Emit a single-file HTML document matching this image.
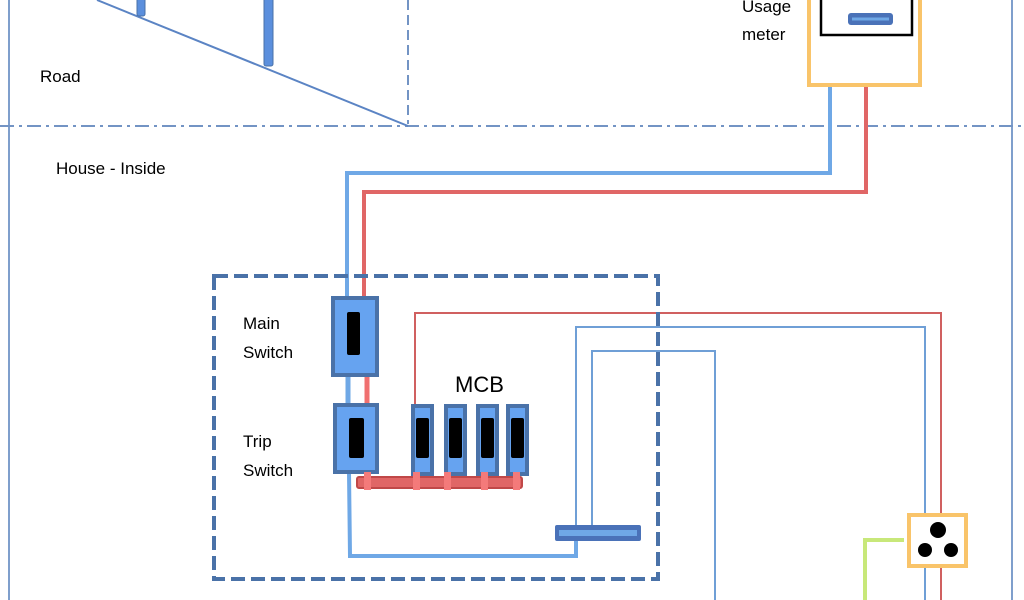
<!DOCTYPE html>
<html><head><meta charset="utf-8"><style>
html,body{margin:0;padding:0;background:#fff;}
svg{display:block;}
text{font-family:"Liberation Sans",sans-serif;fill:#000;}
</style></head><body>
<svg width="1024" height="600" viewBox="0 0 1024 600" xmlns="http://www.w3.org/2000/svg">
<!-- borders -->
<line x1="9" y1="0" x2="9" y2="600" stroke="#7f9fcc" stroke-width="2"/>
<line x1="1012" y1="0" x2="1012" y2="600" stroke="#7f9fcc" stroke-width="2"/>
<line x1="0" y1="126" x2="1024" y2="126" stroke="#7394c4" stroke-width="2" stroke-dasharray="14,5,3,5"/>
<line x1="408" y1="0" x2="408" y2="124" stroke="#7394c4" stroke-width="2" stroke-dasharray="10,5"/>
<!-- road -->
<line x1="97" y1="0" x2="408" y2="126" stroke="#5b84c4" stroke-width="2"/>
<rect x="137" y="-2" width="8" height="18" rx="2" fill="#5b8fdd" stroke="#4a72a8" stroke-width="1"/>
<rect x="264" y="-2" width="9" height="68" rx="2" fill="#5b8fdd" stroke="#4a72a8" stroke-width="1"/>
<text x="40" y="82" font-size="17">Road</text>
<text x="56" y="174" font-size="17">House - Inside</text>
<!-- meter -->
<rect x="809" y="-10" width="111" height="95" fill="#fff" stroke="#f9c46a" stroke-width="4"/>
<rect x="821" y="-10" width="91" height="45" fill="#fff" stroke="#000" stroke-width="2.5"/>
<rect x="848" y="13" width="45" height="12" rx="3" fill="#4a72b8"/>
<line x1="852" y1="19" x2="889" y2="19" stroke="#6fa8e6" stroke-width="3"/>
<text x="742" y="12" font-size="17">Usage</text>
<text x="742" y="40" font-size="17">meter</text>
<!-- main wires -->
<polyline points="830,87 830,173 347,173 347,298" fill="none" stroke="#6fa8e6" stroke-width="4"/>
<polyline points="866,87 866,192 364,192 364,298" fill="none" stroke="#e06666" stroke-width="4"/>
<!-- thin wires -->
<polyline points="415,405 415,313 941,313 941,600" fill="none" stroke="#d06060" stroke-width="2"/>
<polyline points="576,540 576,327 925,327 925,600" fill="none" stroke="#6f9fd6" stroke-width="2"/>
<polyline points="592,530 592,351 715,351 715,600" fill="none" stroke="#6f9fd6" stroke-width="2"/>
<!-- dashed box -->
<rect x="214" y="276" width="444" height="303" fill="none" stroke="#4a72a8" stroke-width="4" stroke-dasharray="14,6"/>
<!-- between switches -->
<line x1="348" y1="375" x2="348" y2="405" stroke="#6fa8e6" stroke-width="5"/>
<line x1="367" y1="375" x2="367" y2="405" stroke="#f07070" stroke-width="5"/>
<!-- trip to neutral bar -->
<polyline points="349,472 350,556 576,556 576,540" fill="none" stroke="#6fa8e6" stroke-width="4"/>
<!-- main switch -->
<rect x="333" y="298" width="44" height="77" fill="#66a3f0" stroke="#4a72a8" stroke-width="4"/>
<rect x="347" y="312" width="13" height="43" rx="2" fill="#000"/>
<!-- trip switch -->
<rect x="335" y="405" width="42" height="67" fill="#66a3f0" stroke="#4a72a8" stroke-width="4"/>
<rect x="349" y="418" width="15" height="40" rx="2" fill="#000"/>
<!-- MCBs -->
<g fill="#66a3f0" stroke="#4a72a8" stroke-width="4">
<rect x="413" y="406" width="19" height="68"/>
<rect x="446" y="406" width="19" height="68"/>
<rect x="478" y="406" width="19" height="68"/>
<rect x="508" y="406" width="19" height="68"/>
</g>
<g fill="#000">
<rect x="416" y="418" width="13" height="40" rx="2"/>
<rect x="449" y="418" width="13" height="40" rx="2"/>
<rect x="481" y="418" width="13" height="40" rx="2"/>
<rect x="511" y="418" width="13" height="40" rx="2"/>
</g>
<text x="455" y="392" font-size="22">MCB</text>
<!-- busbar -->
<rect x="357" y="477" width="165" height="11" rx="2" fill="#e06666" stroke="#c04848" stroke-width="2"/>
<g fill="#f47a7a">
<rect x="364" y="472" width="7" height="18"/><rect x="413" y="472" width="7" height="18"/><rect x="444" y="472" width="7" height="18"/><rect x="481" y="472" width="7" height="18"/><rect x="513" y="472" width="7" height="18"/>
</g>
<!-- neutral bar -->
<rect x="555" y="525" width="86" height="16" rx="2" fill="#4a72b8"/>
<rect x="559" y="530" width="78" height="6" fill="#6fa8e6"/>
<!-- labels -->
<text x="243" y="329" font-size="17">Main</text>
<text x="243" y="358" font-size="17">Switch</text>
<text x="243" y="447" font-size="17">Trip</text>
<text x="243" y="476" font-size="17">Switch</text>
<!-- socket -->
<polyline points="904,540 865,540 865,600" fill="none" stroke="#c8e87a" stroke-width="4"/>
<rect x="909" y="515" width="57" height="51" fill="#fff" stroke="#f9c46a" stroke-width="4"/>
<circle cx="938" cy="530" r="8" fill="#000"/>
<circle cx="925" cy="550" r="7" fill="#000"/>
<circle cx="951" cy="550" r="7" fill="#000"/>
</svg>
</body></html>
